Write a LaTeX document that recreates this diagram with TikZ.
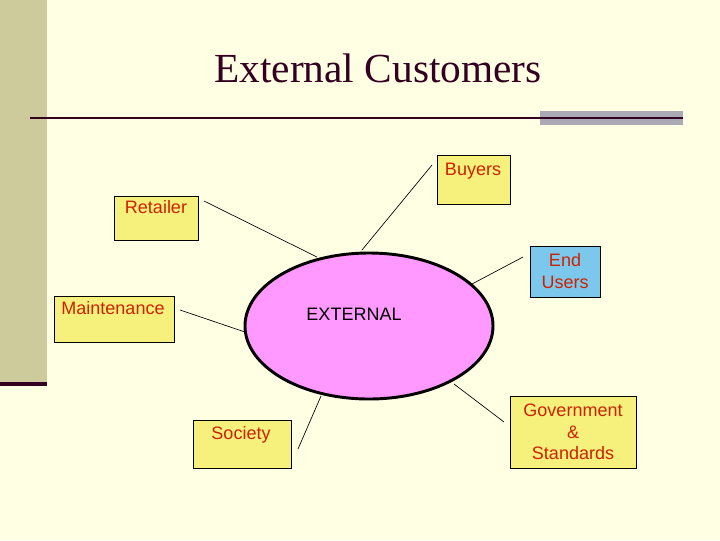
\documentclass[tikz,border=0pt]{standalone}
\usepackage{fontspec}
\usetikzlibrary{shapes.geometric}
\setmainfont{Liberation Serif}
\newfontfamily\arialf{Liberation Sans}
\definecolor{bgc}{HTML}{FFFFE4}
\definecolor{barc}{HTML}{CDCA9C}
\definecolor{darkc}{HTML}{330022}
\definecolor{greyc}{HTML}{ABA9B3}
\definecolor{yelc}{HTML}{F6F17C}
\definecolor{bluec}{HTML}{7CC8EC}
\definecolor{pinkc}{HTML}{FF99FF}
\definecolor{redc}{HTML}{CC2200}
\tikzset{
  boxs/.style={draw=black, line width=0.6pt, fill=yelc},
  lbl/.style={font=\arialf\fontsize{13.5}{16}\selectfont, text=redc, align=center, inner sep=0pt},
  conn/.style={draw=black, line width=0.5pt}
}
\begin{document}
\begin{tikzpicture}[x=0.75pt,y=-0.75pt]
\fill[bgc] (0,0) rectangle (720,540);
\useasboundingbox (0,0) rectangle (720,540);
% left bar
\fill[barc] (0,0) rectangle (47,382);
\fill[darkc] (0,382) rectangle (47,386);
% title
\node[font=\fontsize{31}{37}\selectfont, text=darkc, inner sep=0pt] (title) at (378,68) {External Customers};
% rule
\fill[greyc] (540,111) rectangle (683,125);
\draw[darkc, line width=1.5pt] (30,117.5) -- (683,117.5);
% ellipse
\node[ellipse, draw=black, line width=2.2pt, fill=pinkc, minimum width=186pt, minimum height=109.5pt, inner sep=0pt] (ext) at (369,326) {};
\node[font=\arialf\fontsize{13.5}{16}\selectfont, text=black, inner sep=0pt] (extlbl) at (354,314) {EXTERNAL};
% boxes
\draw[boxs] (437,155) rectangle (510,204) node[midway] (buyersbox) {};
\node[lbl] (buyers) at (473,171) {Buyers};
\draw[boxs] (114,196) rectangle (198,240) node[midway] (retailbox) {};
\node[lbl] (retailer) at (156,207) {Retailer};
\draw[boxs, fill=bluec] (530,246) rectangle (600,297) node[midway] (endbox) {};
\node[lbl] (endusers) at (565,271) {End\\Users};
\draw[boxs] (54,296) rectangle (174,342) node[midway] (maintbox) {};
\node[lbl] (maint) at (113,308) {Maintenance};
\draw[boxs] (193,420) rectangle (291,468) node[midway] (socbox) {};
\node[lbl] (society) at (241,435) {Society};
\draw[boxs] (510,396) rectangle (636,468) node[midway] (govbox) {};
\node[lbl] (gov) at (573,432) {Government\\\&\\Standards};
% connector end points
\coordinate (rA) at (204,201); \coordinate (rB) at (317,257);
\coordinate (bA) at (432,165); \coordinate (bB) at (362,250);
\coordinate (eA) at (523,257); \coordinate (eB) at (472,284);
\coordinate (mA) at (180,310); \coordinate (mB) at (245,332);
\coordinate (sA) at (298,449); \coordinate (sB) at (321,396);
\coordinate (gA) at (504,422); \coordinate (gB) at (454,384);
\draw[conn] (rA) -- (rB);
\draw[conn] (bA) -- (bB);
\draw[conn] (eA) -- (eB);
\draw[conn] (mA) -- (mB);
\draw[conn] (sA) -- (sB);
\draw[conn] (gA) -- (gB);
\end{tikzpicture}
\end{document}
